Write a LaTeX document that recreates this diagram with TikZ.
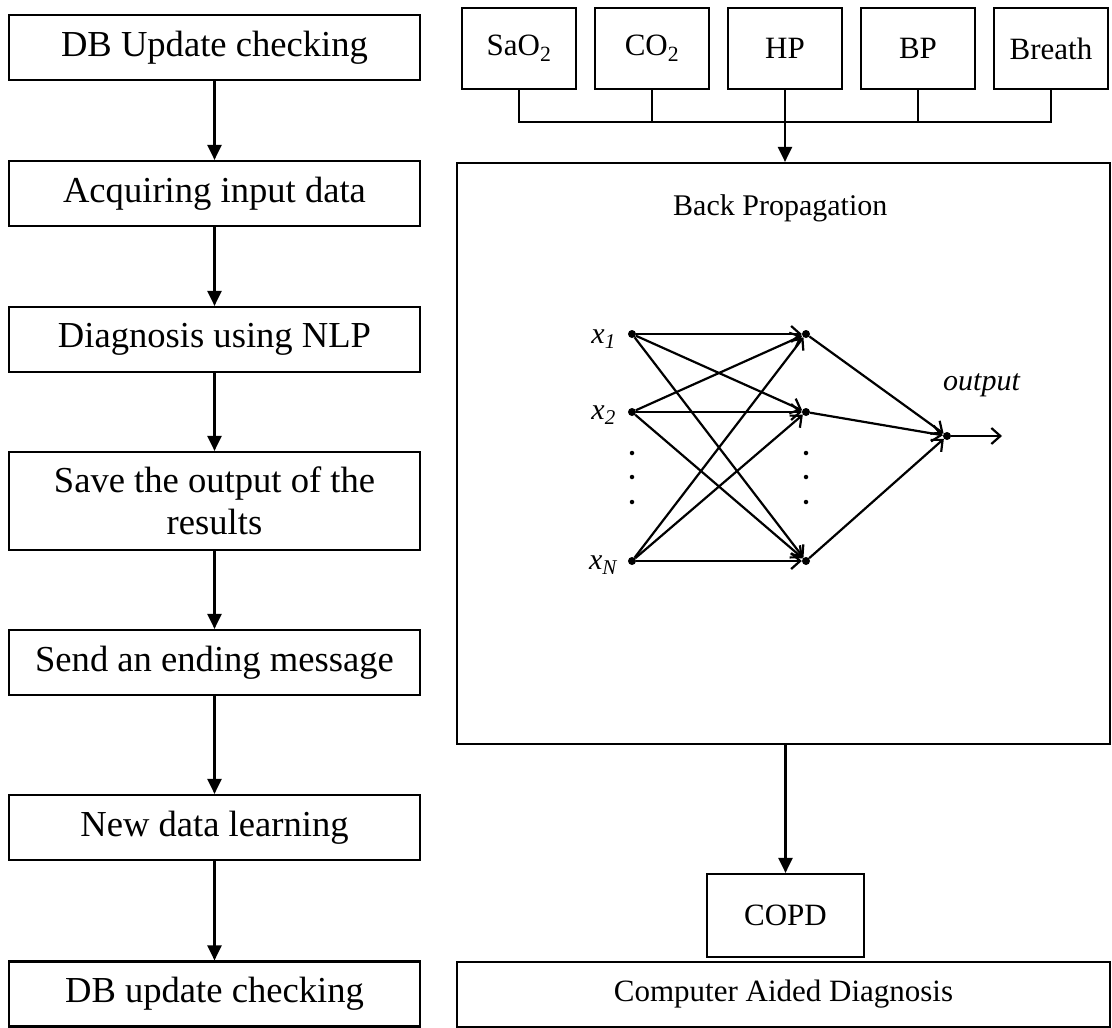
\documentclass[tikz,border=0pt]{standalone}
\usepackage{fontspec}
\setmainfont{Liberation Serif}
\usetikzlibrary{arrows.meta}
\begin{document}
\begin{tikzpicture}[x=1pt,y=-1pt,
  stepbox/.style={draw, line width=2.2pt, minimum width=411pt, minimum height=65pt,
    inner sep=0pt, align=center, font=\fontsize{36.6}{42}\selectfont},
  sensor/.style={draw, line width=2pt, minimum width=114pt, minimum height=81pt,
    inner sep=0pt, font=\fontsize{31}{36}\selectfont},
  panel/.style={draw, line width=2.2pt, inner sep=0pt, font=\fontsize{31}{36}\selectfont},
  flow/.style={line width=2.2pt, -{Triangle[length=15pt,width=14pt]}},
  bus/.style={line width=1.5pt},
  neuron/.style={circle, fill, inner sep=0pt, minimum size=8pt},
  synapse/.style={line width=2.2pt, -{Straight Barb[length=9pt,width=16pt]}},
  vdot/.style={circle, fill, inner sep=0pt, minimum size=4.5pt},
  lbl/.style={inner sep=0pt, font=\fontsize{30}{36}\selectfont}
]
\useasboundingbox (0,0) rectangle (1112,1028);

% ---- processing steps (left column) ----
\node[stepbox] (s1) at (214.5,47.5)  {DB Update checking};
\node[stepbox] (s2) at (214.5,193.5) {Acquiring input data};
\node[stepbox] (s3) at (214.5,339.5) {Diagnosis using NLP};
\node[stepbox, minimum height=98pt] (s4) at (214.5,501) {Save the output of the\\results};
\node[stepbox] (s5) at (214.5,662.5) {Send an ending message};
\node[stepbox] (s6) at (214.5,827.5) {New data learning};
\node[stepbox] (s7) at (214.5,994)   {DB update checking};
\foreach \a/\b in {s1/s2,s2/s3,s3/s4,s4/s5,s5/s6,s6/s7}
  \draw[flow] (\a) -- (\b);

% ---- sensor inputs ----
\node[sensor] (sao) at (519,48.5)  {SaO\textsubscript{2}};
\node[sensor] (co)  at (652,48.5)  {CO\textsubscript{2}};
\node[sensor] (hp)  at (785,48.5)  {HP};
\node[sensor] (bpr) at (918,48.5)  {BP};
\node[sensor] (br)  at (1051,48.5) {Breath};

% ---- back propagation network panel ----
\node[panel, minimum width=653pt, minimum height=581pt] (bp) at (783.5,453.5) {};
\node[lbl, anchor=base west] (bptitle) at (673,215) {Back Propagation};

% sensor bus into the panel
\coordinate (busl) at (sao.south |- 0,122);
\coordinate (busr) at (br.south |- 0,122);
\draw[bus] (sao.south) -- (busl) -- (busr) -- (br.south);
\draw[bus] (co.south) -- (co.south |- busl);
\draw[bus] (bpr.south) -- (bpr.south |- busl);
\draw[flow] (hp.south) -- (hp.south |- bp.north);

% neurons
\node[neuron] (i1) at (632,334) {};
\node[neuron] (i2) at (632,412) {};
\node[neuron] (iN) at (632,561) {};
\node[neuron] (h1) at (806,334) {};
\node[neuron] (h2) at (806,412) {};
\node[neuron] (hN) at (806,561) {};
\node[neuron] (o)  at (947,436) {};
\coordinate (out) at (1002,436);

\foreach \y [count=\k] in {453,477,502} {
  \node[vdot] (di\k) at (632,\y) {};
  \node[vdot] (dh\k) at (806,\y) {};
}

\foreach \a in {i1,i2,iN}
  \foreach \b in {h1,h2,hN}
    \draw[synapse] (\a) -- (\b);
\foreach \b in {h1,h2,hN}
  \draw[synapse] (\b) -- (o);
\draw[synapse] (o) -- (out);

\node[lbl, anchor=base east] (lx1) at (616,343) {\textit{x}\textsubscript{\textit{1}}};
\node[lbl, anchor=base east] (lx2) at (616,419) {\textit{x}\textsubscript{\textit{2}}};
\node[lbl, anchor=base east] (lxN) at (618,569) {\textit{x}\textsubscript{\textit{N}}};
\node[lbl, anchor=base west] (outlbl) at (943,390) {\textit{output}};

% ---- result ----
\node[panel, minimum width=157pt, minimum height=83pt] (copd) at (785.5,915.5) {COPD};
\node[panel, minimum width=653pt, minimum height=65pt] (cad) at (783.5,994.5) {Computer Aided Diagnosis};
\draw[flow] (copd.north |- bp.south) -- (copd.north);
\end{tikzpicture}
\end{document}
